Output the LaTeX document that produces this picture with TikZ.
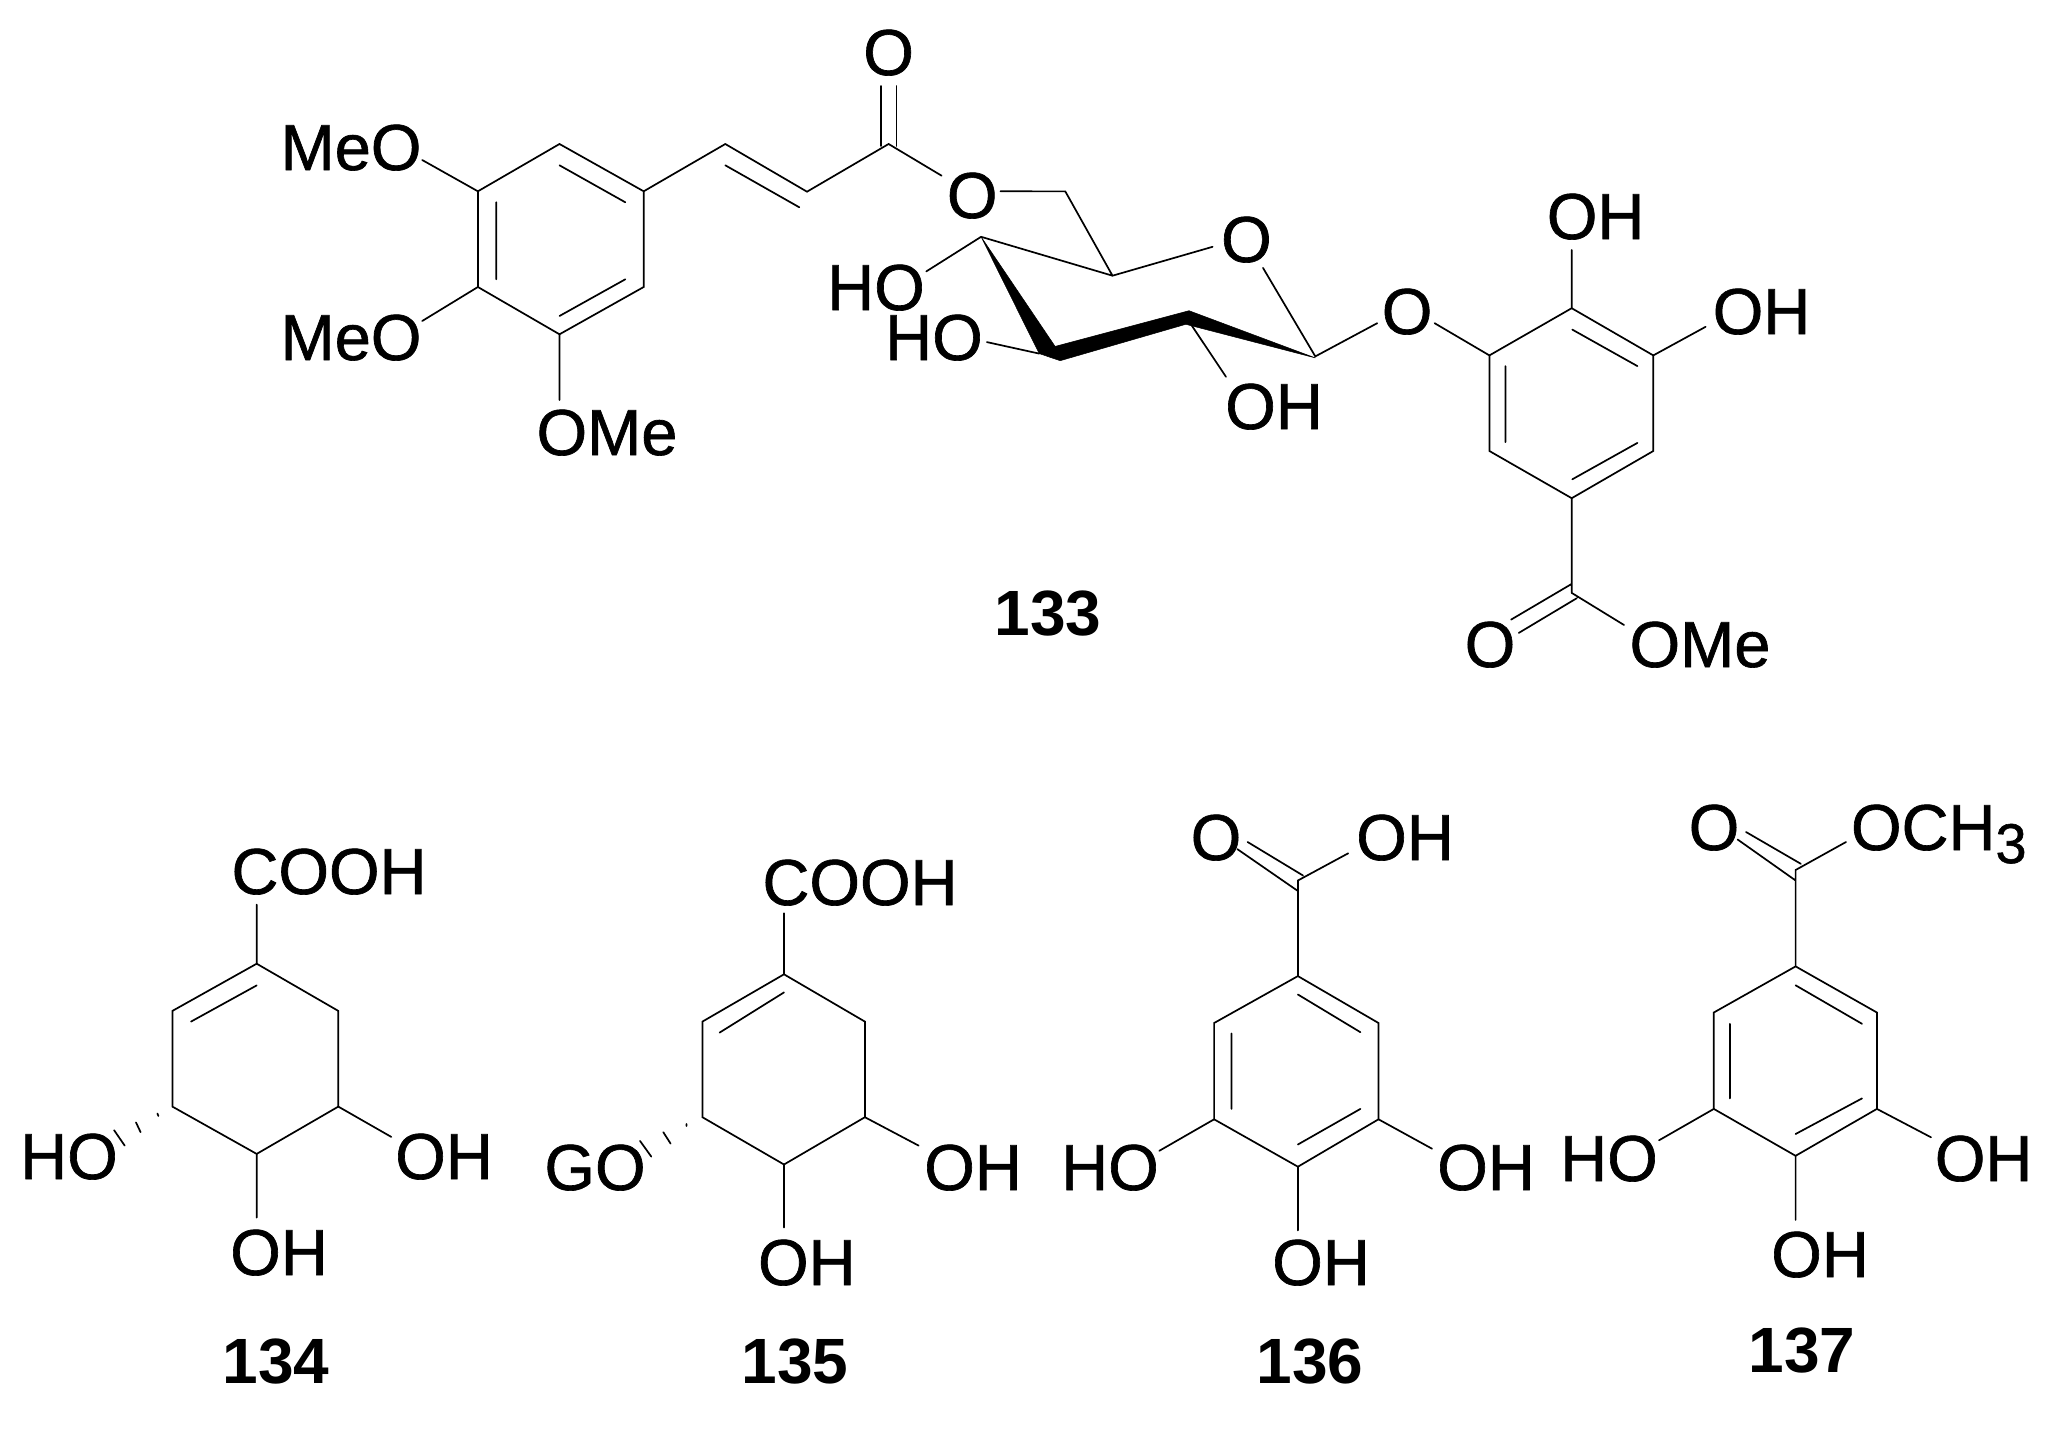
\documentclass[tikz,border=0pt]{standalone}
\usepackage{fontspec}
\setmainfont{Liberation Sans}
\newfontfamily\atomfont[RawFeature={embolden=1}]{Liberation Sans}
\tikzset{
  bond/.style={line width=1.7pt,line cap=round,line join=miter,black},
  atomlabel/.style={anchor=base,inner sep=0pt,outer sep=0pt,font=\atomfont\fontsize{65}{65}\selectfont,text=black},
  numlabel/.style={anchor=base,inner sep=0pt,outer sep=0pt,font=\fontsize{64}{64}\selectfont\bfseries,text=black},
  wedge/.style={fill=black,draw=black,line width=0.5pt,line join=miter}
}
\begin{document}
\begin{tikzpicture}[x=1pt,y=-1pt]
\useasboundingbox (0,0) rectangle (2051,1437);
% ---------- 133 labels
\node[atomlabel] (meo1) at (351,170) {MeO};
\node[atomlabel] (meo2) at (351,360) {MeO};
\node[atomlabel] (ome1) at (607,455) {OMe};
\node[atomlabel] (o133a) at (888.6,75) {O};
\node[atomlabel] (o133b) at (972.2,218) {O};
\node[atomlabel] (o133c) at (1246.4,262) {O};
\node[atomlabel] (o133d) at (1407.1,334) {O};
\node[atomlabel] (ho1) at (876,310) {HO};
\node[atomlabel] (ho2) at (934,360) {HO};
\node[atomlabel] (oh1) at (1274,429) {OH};
\node[atomlabel] (oh2) at (1595.6,239) {OH};
\node[atomlabel] (oh3) at (1761.5,334) {OH};
\node[atomlabel] (o133e) at (1490,667) {O};
\node[atomlabel] (ome2) at (1700,667) {OMe};
\node[numlabel] (n133) at (1048,635) {133};
% ---------- 133 coordinates: ring A and side chain
\coordinate (a1) at (559.5,144);
\coordinate (a2) at (643.7,191.3);
\coordinate (a3) at (643.7,287);
\coordinate (a4) at (559.5,334.3);
\coordinate (a5) at (477.9,287);
\coordinate (a6) at (477.9,191.3);
\coordinate (ai1) at (559.5,165.3);
\coordinate (ai2) at (625.3,202.3);
\coordinate (ai3) at (496.2,202.3);
\coordinate (ai4) at (496.2,279.3);
\coordinate (ai5) at (559.5,316);
\coordinate (ai6) at (625.3,279.3);
\coordinate (v1) at (725.3,144);
\coordinate (v2) at (807,191.7);
\coordinate (vi1) at (725.3,165.3);
\coordinate (vi2) at (799.3,207.3);
\coordinate (cc) at (888.6,144);
\coordinate (co1) at (880.9,146);
\coordinate (co2) at (880.9,86);
\coordinate (co3) at (896.5,146);
\coordinate (co4) at (896.5,86);
\coordinate (oe1) at (941.6,175.7);
\coordinate (oe2) at (1000.4,191.3);
\coordinate (m1) at (422.2,160);
\coordinate (m2) at (422.2,321);
\coordinate (m3) at (559.5,400);
\draw[bond] (a1)--(a2)--(a3)--(a4)--(a5)--(a6)--cycle;
\draw[bond] (ai1)--(ai2) (ai3)--(ai4) (ai5)--(ai6);
\draw[bond] (a2)--(v1)--(v2)--(cc)--(oe1) (vi1)--(vi2);
\draw[bond] (co1)--(co2) (co3)--(co4);
\draw[bond] (m1)--(a6) (m2)--(a5) (m3)--(a4);
% ---------- 133 sugar
\coordinate (ch2) at (1065.3,191.4);
\coordinate (c5) at (1112.5,275.7);
\coordinate (ro1) at (1212.6,246.8);
\coordinate (ro2) at (1263,267.9);
\coordinate (c1) at (1315.3,356.4);
\coordinate (c4) at (981.1,236.8);
\coordinate (hb1) at (926.3,271.4);
\coordinate (hb2) at (986.9,342.1);
\coordinate (c3) at (1039.2,353.6);
\coordinate (c2) at (1189,321.4);
\coordinate (hb3) at (1226,376.8);
\coordinate (gl1) at (1377.2,323.2);
\coordinate (gl2) at (1434.6,323.2);
\coordinate (w1) at (1055.1,346.4);
\coordinate (w2) at (1189,310.7);
\coordinate (w3) at (1315.3,357.9);
\coordinate (w4) at (1185.8,324.3);
\coordinate (w5) at (1060.2,360.7);
\draw[bond] (oe2)--(ch2)--(c5)--(ro1) (ro2)--(c1)--(gl1) (c4)--(c5) (c4)--(hb1) (hb2)--(c3) (c2)--(hb3);
\fill[wedge] (c4)--(w1)--(w2)--(w3)--(w4)--(w5)--(c3)--cycle;
% ---------- 133 ring B
\coordinate (b1) at (1571.7,308.2);
\coordinate (b2) at (1653.3,355.4);
\coordinate (b3) at (1653.3,451);
\coordinate (b4) at (1571.7,498.2);
\coordinate (b5) at (1489.4,451);
\coordinate (b6) at (1489.4,355.4);
\coordinate (bi1) at (1505.4,366.1);
\coordinate (bi2) at (1505.4,442.1);
\coordinate (bi3) at (1572.3,329.6);
\coordinate (bi4) at (1637.4,366.1);
\coordinate (bi5) at (1572.3,479.3);
\coordinate (bi6) at (1637.4,442.9);
\coordinate (bt) at (1571.7,250);
\coordinate (br) at (1705.6,326.8);
\coordinate (es) at (1571.7,592.9);
\coordinate (eo1) at (1571.7,583.9);
\coordinate (eo2) at (1511.1,619.6);
\coordinate (eo3) at (1576.8,598.2);
\coordinate (eo4) at (1518.8,632.9);
\coordinate (eo5) at (1624,625);
\draw[bond] (b1)--(b2)--(b3)--(b4)--(b5)--(b6)--cycle;
\draw[bond] (bi1)--(bi2) (bi3)--(bi4) (bi5)--(bi6);
\draw[bond] (gl2)--(b6) (b1)--(bt) (b2)--(br) (b4)--(es) (eo1)--(eo2) (eo3)--(eo4) (es)--(eo5);
% ---------- 134
\node[atomlabel] (cooh4) at (329,894) {COOH};
\node[atomlabel] (oh41) at (279,1275) {OH};
\node[atomlabel] (oh42) at (444,1179) {OH};
\node[atomlabel] (ho41) at (69,1179) {HO};
\node[numlabel] (n134) at (276,1383) {134};
\coordinate (d1) at (256.7,963.7);
\coordinate (d2) at (172.4,1010.9);
\coordinate (d3) at (172.4,1106.6);
\coordinate (d4) at (256.7,1153.9);
\coordinate (d5) at (338.3,1106.6);
\coordinate (d6) at (338.3,1010.9);
\coordinate (di1) at (256.7,985.4);
\coordinate (di2) at (191,1021.6);
\coordinate (ds) at (256.7,904.6);
\coordinate (db) at (256.7,1217.6);
\coordinate (dr) at (391.3,1136.9);
\coordinate (dh1) at (157.4,1113.5);
\coordinate (dh2) at (158.4,1116);
\coordinate (dh3) at (136,1122.4);
\coordinate (dh4) at (140.6,1132.2);
\coordinate (dh5) at (114.1,1130.2);
\coordinate (dh6) at (124.7,1145.6);
\draw[bond] (d1)--(d2)--(d3)--(d4)--(d5)--(d6)--cycle;
\draw[bond] (di1)--(di2) (d1)--(ds) (d4)--(db) (d5)--(dr);
\draw[bond] (dh1)--(dh2) (dh3)--(dh4) (dh5)--(dh6);
% ---------- 135
\node[atomlabel] (cooh5) at (860,905) {COOH};
\node[atomlabel] (oh51) at (806.8,1285) {OH};
\node[atomlabel] (oh52) at (973,1190) {OH};
\node[atomlabel] (go) at (595,1190) {GO};
\node[numlabel] (n135) at (795,1383) {135};
\coordinate (e1) at (784,974.3);
\coordinate (e2) at (702.4,1021.6);
\coordinate (e3) at (702.4,1117.2);
\coordinate (e4) at (784,1164.5);
\coordinate (e5) at (864.9,1117.2);
\coordinate (e6) at (864.9,1021.6);
\coordinate (ei1) at (784,992.4);
\coordinate (ei2) at (719.6,1032.6);
\coordinate (es1) at (784,913.3);
\coordinate (eb) at (784,1227.5);
\coordinate (er) at (918.6,1145.6);
\coordinate (eh1) at (686.5,1124);
\coordinate (eh2) at (686.5,1126);
\coordinate (eh3) at (663.3,1132.2);
\coordinate (eh4) at (670.6,1143.6);
\coordinate (eh5) at (640,1140.9);
\coordinate (eh6) at (651.3,1156.6);
\draw[bond] (e1)--(e2)--(e3)--(e4)--(e5)--(e6)--cycle;
\draw[bond] (ei1)--(ei2) (e1)--(es1) (e4)--(eb) (e5)--(er);
\draw[bond] (eh1)--(eh2) (eh3)--(eh4) (eh5)--(eh6);
% ---------- 136
\node[atomlabel] (o61) at (1216,860) {O};
\node[atomlabel] (oh61) at (1405,860) {OH};
\node[atomlabel] (ho61) at (1110,1190) {HO};
\node[atomlabel] (oh62) at (1486,1190) {OH};
\node[atomlabel] (oh63) at (1321,1285) {OH};
\node[numlabel] (n136) at (1310,1383) {136};
\coordinate (f1) at (1297.9,976.1);
\coordinate (f2) at (1378.5,1023);
\coordinate (f3) at (1378.5,1119.3);
\coordinate (f4) at (1297.9,1166.7);
\coordinate (f5) at (1214.1,1119.3);
\coordinate (f6) at (1214.1,1023);
\coordinate (fi1) at (1297.9,994.5);
\coordinate (fi2) at (1360.4,1032.2);
\coordinate (fi3) at (1231.5,1033.5);
\coordinate (fi4) at (1231.5,1108.9);
\coordinate (fi5) at (1297.9,1144.5);
\coordinate (fi6) at (1360.4,1108.9);
\coordinate (fs) at (1297.9,880.5);
\coordinate (fo1) at (1247.6,842);
\coordinate (fo2) at (1303,875.5);
\coordinate (fo3) at (1237.3,849.1);
\coordinate (fo4) at (1297.9,891);
\coordinate (fo5) at (1348.2,853.3);
\coordinate (fl) at (1159.3,1150.8);
\coordinate (fr) at (1432,1148.7);
\coordinate (fb) at (1297.9,1230.4);
\draw[bond] (f1)--(f2)--(f3)--(f4)--(f5)--(f6)--cycle;
\draw[bond] (fi1)--(fi2) (fi3)--(fi4) (fi5)--(fi6);
\draw[bond] (f1)--(fs)--(fo5) (fo1)--(fo2) (fo3)--(fo4) (f5)--(fl) (f3)--(fr) (f4)--(fb);
% ---------- 137
\node[atomlabel] (o71) at (1714,850) {O};
\node[atomlabel,anchor=base west] (och3) at (1851,850) {OCH\raisebox{-13pt}{\fontsize{56}{56}\selectfont 3}};
\node[atomlabel] (ho71) at (1609,1181) {HO};
\node[atomlabel] (oh71) at (1983.6,1181) {OH};
\node[atomlabel] (oh72) at (1820,1277) {OH};
\node[numlabel] (n137) at (1802,1372) {137};
\coordinate (g1) at (1795.6,966.4);
\coordinate (g2) at (1876.9,1012.5);
\coordinate (g3) at (1876.9,1108.9);
\coordinate (g4) at (1795.6,1155.8);
\coordinate (g5) at (1713.8,1108.9);
\coordinate (g6) at (1713.8,1012.5);
\coordinate (gi1) at (1795.6,985.3);
\coordinate (gi2) at (1862,1023.8);
\coordinate (gi3) at (1729.9,1023.8);
\coordinate (gi4) at (1729.9,1098.4);
\coordinate (gi5) at (1795.6,1134);
\coordinate (gi6) at (1862,1098.4);
\coordinate (gs) at (1795.6,870);
\coordinate (go1) at (1746,832);
\coordinate (go2) at (1800.8,863.8);
\coordinate (go3) at (1737.6,839.5);
\coordinate (go4) at (1795.6,880.5);
\coordinate (go5) at (1846,842);
\coordinate (gl) at (1659,1140.3);
\coordinate (gr) at (1931,1137.3);
\coordinate (gb) at (1795.6,1219.9);
\draw[bond] (g1)--(g2)--(g3)--(g4)--(g5)--(g6)--cycle;
\draw[bond] (gi1)--(gi2) (gi3)--(gi4) (gi5)--(gi6);
\draw[bond] (g1)--(gs)--(go5) (go1)--(go2) (go3)--(go4) (g5)--(gl) (g3)--(gr) (g4)--(gb);
\end{tikzpicture}
\end{document}
